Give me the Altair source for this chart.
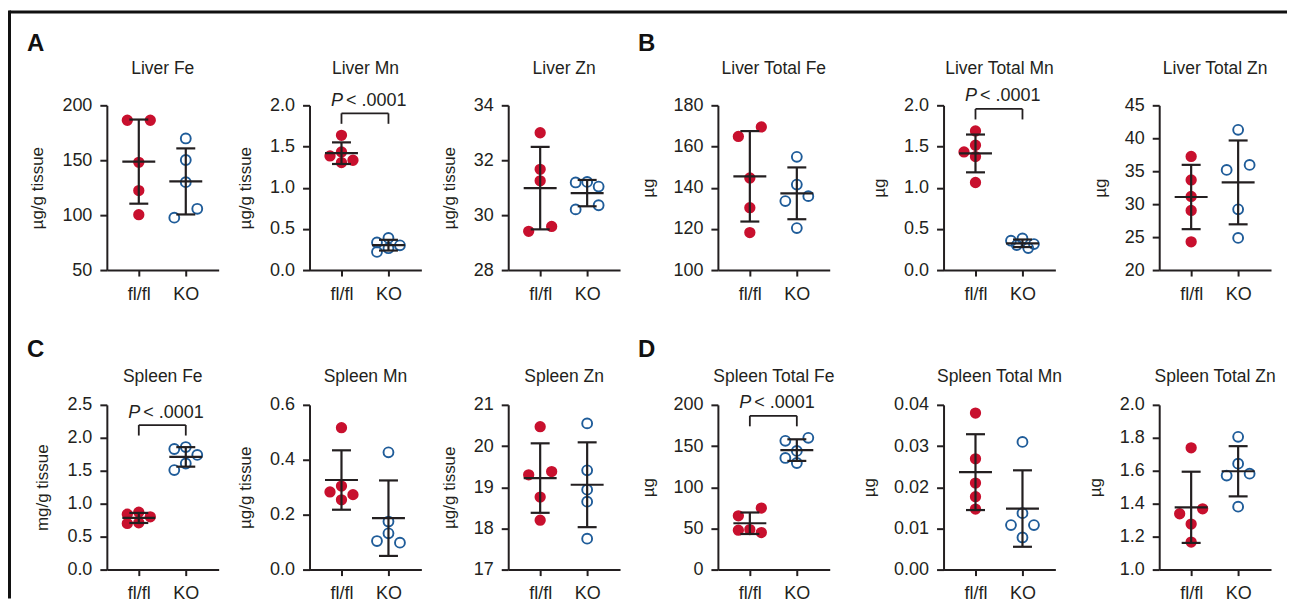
import json
import math
import altair as alt
import pandas as pd

# ---------------- data ----------------
GROUPS = ["fl/fl", "KO"]

PANEL_TITLES = ["Liver Fe", "Liver Mn", "Liver Zn",
                "Liver Total Fe", "Liver Total Mn", "Liver Total Zn",
                "Spleen Fe", "Spleen Mn", "Spleen Zn",
                "Spleen Total Fe", "Spleen Total Mn", "Spleen Total Zn"]
Y_TITLES = ["µg/g tissue", "µg/g tissue", "µg/g tissue", "µg", "µg", "µg",
            "mg/g tissue", "µg/g tissue", "µg/g tissue", "µg", "µg", "µg"]
Y_MIN = [50, 0, 28, 100, 0, 20, 0, 0, 17, 0, 0, 1.0]
Y_MAX = [200, 2, 34, 180, 2, 45, 2.5, 0.6, 21, 200, 0.04, 2.0]
Y_STEP = [50, 0.5, 2, 20, 0.5, 5, 0.5, 0.2, 1, 50, 0.01, 0.2]
Y_FMT = ["d", ".1f", "d", "d", ".1f", "d", ".1f", ".1f", "d", "d", ".2f", ".1f"]
PANEL_LETTERS = {0: "A", 3: "B", 6: "C", 9: "D"}
P_TEXT = ["", "< .0001", "", "", "< .0001", "", "< .0001", "", "", "< .0001", "", ""]

liver_fe_flfl = [186.4, 186.4, 148.1, 122.4, 100.4]
liver_fe_ko = [169.8, 150.2, 130.0, 105.8, 97.7]
liver_mn_flfl = [1.636, 1.434, 1.386, 1.333, 1.305]
liver_mn_ko = [0.39, 0.335, 0.30, 0.265, 0.22]
liver_zn_flfl = [33.0, 31.67, 31.25, 29.59, 29.41]
liver_zn_ko = [31.21, 31.19, 31.04, 30.36, 30.21]
liver_tfe_flfl = [169.5, 164.9, 144.7, 130.3, 118.2]
liver_tfe_ko = [155.0, 141.5, 135.9, 133.5, 120.4]
liver_tmn_flfl = [1.689, 1.515, 1.434, 1.378, 1.063]
liver_tmn_ko = [0.384, 0.356, 0.315, 0.303, 0.267]
liver_tzn_flfl = [37.25, 33.68, 31.17, 29.05, 24.28]
liver_tzn_ko = [41.28, 35.95, 35.19, 29.21, 24.88]
spleen_fe_flfl = [0.87, 0.84, 0.80, 0.71, 0.70]
spleen_fe_ko = [1.86, 1.83, 1.74, 1.61, 1.51]
spleen_mn_flfl = [0.517, 0.304, 0.283, 0.273, 0.254]
spleen_mn_ko = [0.427, 0.175, 0.132, 0.104, 0.098]
spleen_zn_flfl = [20.47, 19.38, 19.30, 18.76, 18.20]
spleen_zn_ko = [20.55, 19.41, 18.94, 18.65, 17.75]
spleen_tfe_flfl = [74.7, 65.3, 48.6, 47.8, 44.9]
spleen_tfe_ko = [160.0, 156.3, 144.1, 135.5, 129.4]
spleen_tmn_flfl = [0.0380, 0.0269, 0.0210, 0.0177, 0.0147]
spleen_tmn_ko = [0.0310, 0.0137, 0.0108, 0.0108, 0.0078]
spleen_tzn_flfl = [1.739, 1.369, 1.339, 1.276, 1.167]
spleen_tzn_ko = [1.806, 1.643, 1.582, 1.571, 1.382]

SERIES = [
    (liver_fe_flfl, liver_fe_ko), (liver_mn_flfl, liver_mn_ko), (liver_zn_flfl, liver_zn_ko),
    (liver_tfe_flfl, liver_tfe_ko), (liver_tmn_flfl, liver_tmn_ko), (liver_tzn_flfl, liver_tzn_ko),
    (spleen_fe_flfl, spleen_fe_ko), (spleen_mn_flfl, spleen_mn_ko), (spleen_zn_flfl, spleen_zn_ko),
    (spleen_tfe_flfl, spleen_tfe_ko), (spleen_tmn_flfl, spleen_tmn_ko), (spleen_tzn_flfl, spleen_tzn_ko),
]

# ---------------- styling / layout ----------------
RED = "#C8102E"
BLUE = "#1F5C99"
INK = "#231F20"
FONT = "Liberation Sans"
W = 112
H = 165
X_DOMAIN = [-0.68, 1.7]
XPX = W / (X_DOMAIN[1] - X_DOMAIN[0])
STEP_PX = 11.5
COLLIDE_PX = 9.5
MEAN_HALF_PX = 16.5
CAP_HALF_PX = 9.5
COL_EXTRA = [4, 0, 11, 27, 17, 0]
TITLE_Y = [-31, -23]
LETTER_Y = [-54, -48]


def swarm_offsets(values, px_per_unit):
    """Dot-plot spreading (in px): centre first, then sides, then half steps."""
    n = len(values)
    ypx = [v * px_per_unit for v in values]
    order = sorted(range(n), key=lambda k: -values[k])
    cands = [0.0, -STEP_PX, STEP_PX, -STEP_PX / 2, STEP_PX / 2]
    off = [None] * n
    placed = []

    def mind(i, x):
        d = [math.hypot(x - off[j], ypx[i] - ypx[j]) for j in placed]
        return min(d) if d else 1e9

    for i in order:
        chosen = None
        for c in cands:
            if mind(i, c) >= COLLIDE_PX:
                chosen = c
                break
        if chosen is None:
            chosen = max(cands, key=lambda c: mind(i, c))
        off[i] = chosen
        placed.append(i)
    # a lone pair at the same height sits symmetrically
    for i in range(n):
        if off[i] == -STEP_PX:
            near = [j for j in range(n) if j != i and abs(ypx[i] - ypx[j]) < COLLIDE_PX]
            if len(near) == 1 and off[near[0]] == 0:
                j = near[0]
                nj = [k for k in range(n) if k != j and abs(ypx[j] - ypx[k]) < COLLIDE_PX]
                if nj == [i]:
                    off[j] = STEP_PX
    return off


label_expr = json.dumps(GROUPS) + "[datum.value]"


def make_panel(i):
    row, col = divmod(i, 6)
    ymin, ymax = Y_MIN[i], Y_MAX[i]
    ypu = H / (ymax - ymin)
    rows = []
    for gi, vals in enumerate(SERIES[i]):
        offs = swarm_offsets(vals, ypu)
        for v, o in zip(vals, offs):
            rows.append({"group": GROUPS[gi], "gi": gi, "value": v, "xpos": gi + o / XPX})
    df = pd.DataFrame(rows)

    nt = int(round((ymax - ymin) / Y_STEP[i]))
    ticks = [round(ymin + k * Y_STEP[i], 6) for k in range(nt + 1)]

    xs = alt.Scale(domain=X_DOMAIN, range=[0, W], nice=False, zero=False)
    ys = alt.Scale(domain=[ymin, ymax], nice=False, zero=False)
    xaxis = alt.Axis(values=[0, 1], labelExpr=label_expr, title=None, grid=False,
                     tickSize=6, labelPadding=9, labelFontSize=18, labelFlush=False,
                     labelOverlap=False)
    yaxis = alt.Axis(values=ticks, format=Y_FMT[i], title=Y_TITLES[i], grid=False,
                     tickSize=7, labelPadding=8, labelFontSize=18, titleFontSize=17,
                     titlePadding=15, labelOverlap=False, labelFlush=False)

    def X(f):
        return alt.X(f, type="quantitative", scale=xs, axis=xaxis)

    def Y(f):
        return alt.Y(f, type="quantitative", scale=ys, axis=yaxis)

    base = alt.Chart(df)
    red = base.transform_filter(alt.datum.group == GROUPS[0]).mark_circle(
        size=128, color=RED, opacity=1).encode(x=X("xpos"), y=Y("value"))
    blue = base.transform_filter(alt.datum.group == GROUPS[1]).mark_point(
        shape="circle", size=98, color=BLUE, strokeWidth=1.9, opacity=1, filled=False
    ).encode(x=X("xpos"), y=Y("value"))

    mh = MEAN_HALF_PX / XPX
    ch = CAP_HALF_PX / XPX
    stats = base.transform_aggregate(
        m="mean(value)", sd="stdev(value)", groupby=["gi"]
    ).transform_calculate(
        lo="datum.m - datum.sd", hi="datum.m + datum.sd",
        xm0=f"datum.gi - {mh}", xm1=f"datum.gi + {mh}",
        xc0=f"datum.gi - {ch}", xc1=f"datum.gi + {ch}",
    )
    rk = dict(color=INK, strokeWidth=2.2)
    vline = stats.mark_rule(**rk).encode(x=X("gi"), y=Y("lo"), y2="hi:Q")
    meanl = stats.mark_rule(**rk).encode(x=X("xm0"), x2="xm1:Q", y=Y("m"))
    caplo = stats.mark_rule(**rk).encode(x=X("xc0"), x2="xc1:Q", y=Y("lo"))
    caphi = stats.mark_rule(**rk).encode(x=X("xc0"), x2="xc1:Q", y=Y("hi"))

    layers = [red, blue, vline, meanl, caplo, caphi]

    if P_TEXT[i]:
        allv = list(SERIES[i][0]) + list(SERIES[i][1])
        yb = max(allv) + 22.0 / ypu
        yl = yb - 10.5 / ypu
        bdf = pd.DataFrame([{"x0": 0, "x1": 1, "xm": 0.5, "yb": yb, "yl": yl, "pt": P_TEXT[i]}])
        bc = alt.Chart(bdf)
        bk = dict(color=INK, strokeWidth=1.8)
        layers += [
            bc.mark_rule(**bk).encode(x=X("x0"), x2="x1:Q", y=Y("yb")),
            bc.mark_rule(**bk).encode(x=X("x0"), y=Y("yl"), y2="yb:Q"),
            bc.mark_rule(**bk).encode(x=X("x1"), y=Y("yl"), y2="yb:Q"),
            bc.mark_text(fontStyle="italic", fontSize=18, align="right", baseline="alphabetic",
                         dx=-22, dy=-7.5, color=INK, font=FONT).encode(
                x=X("xm"), y=Y("yb"), text=alt.value("P")),
            bc.mark_text(fontSize=18, align="left", baseline="alphabetic",
                         dx=-19, dy=-7.5, color=INK, font=FONT).encode(
                x=X("xm"), y=Y("yb"), text="pt:N"),
        ]

    one = alt.Chart(pd.DataFrame({"k": [0]}))
    layers.append(one.mark_text(fontSize=17.5, align="center", baseline="alphabetic",
                                color=INK, font=FONT).encode(
        x=alt.value(W / 2), y=alt.value(TITLE_Y[row]), text=alt.value(PANEL_TITLES[i])))
    if i in PANEL_LETTERS:
        layers.append(one.mark_text(fontSize=24, fontWeight="bold", align="left",
                                    baseline="alphabetic", color="#111111", font=FONT).encode(
            x=alt.value(-80), y=alt.value(LETTER_Y[row]), text=alt.value(PANEL_LETTERS[i])))
    if i == 0:
        layers.append(one.mark_rule(color="#111111", strokeWidth=3).encode(
            x=alt.value(-97.5), x2=alt.value(1182), y=alt.value(-93.5)))
        layers.append(one.mark_rule(color="#111111", strokeWidth=3).encode(
            x=alt.value(-97.5), y=alt.value(-95), y2=alt.value(494)))

    return alt.layer(*layers).properties(width=W + COL_EXTRA[col], height=H)


panels = [make_panel(i) for i in range(12)]

chart = alt.concat(
    *panels, columns=6, spacing={"row": 135, "column": 87}, bounds="flush"
).properties(
    padding=0
).configure_view(
    stroke=None
).configure_axis(
    domainColor=INK, domainWidth=2, tickColor=INK, tickWidth=2,
    labelColor=INK, titleColor=INK, labelFont=FONT, titleFont=FONT,
    titleFontWeight="normal"
).configure_text(
    font=FONT
)

chart.save("out.html", embed_options={"renderer": "svg", "actions": False})
